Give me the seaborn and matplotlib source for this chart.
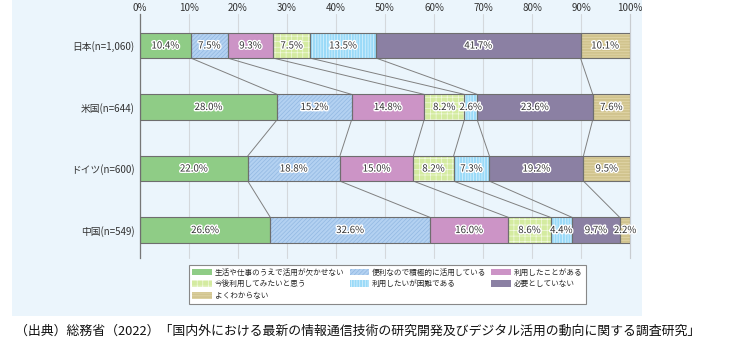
import numpy as np
import pandas as pd
import matplotlib
matplotlib.use('Agg')
import matplotlib.pyplot as plt
import matplotlib.patheffects as pe
from matplotlib.patches import Rectangle, Patch
import seaborn as sns

countries = ['日本(n=1,060)', '米国(n=644)', 'ドイツ(n=600)', '中国(n=549)']
categories = ['生活や仕事のうえで活用が欠かせない', '便利なので積極的に活用している', '利用したことがある',
              '今後利用してみたいと思う', '利用したいが困難である', '必要としていない', 'よくわからない']
japan = [10.4, 7.5, 9.3, 7.5, 13.5, 41.7, 10.1]
usa = [28.0, 15.2, 14.8, 8.2, 2.6, 23.6, 7.6]
germany = [22.0, 18.8, 15.0, 8.2, 7.3, 19.2, 9.5]
china = [26.6, 32.6, 16.0, 8.6, 4.4, 9.7, 2.2]
xticks = [0, 10, 20, 30, 40, 50, 60, 70, 80, 90, 100]
source = '（出典）総務省（2022）「国内外における最新の情報通信技術の研究開発及びデジタル活用の動向に関する調査研究」'

colors = ['#8FCC86', '#B3D1F1', '#CC94C6', '#D4EBA0', '#9ADAF8', '#8B80A3', '#D1C48E']
hatches = ['', '////////', '', '+++', '||||||', '', '------']
hatch_colors = ['#8FCC86', '#92B8E2', '#CC94C6', '#F2F9E0', '#DDF3FD', '#8B80A3', '#E3D8AC']

sns.set_style('white')
plt.rcParams['font.family'] = ['Noto Sans CJK JP', 'DejaVu Sans']
plt.rcParams['hatch.linewidth'] = 0.5

vals = np.array([japan, usa, germany, china])
cum = vals.cumsum(axis=1)
bar_h = 0.41

fig = plt.figure(figsize=(7.3, 3.5), dpi=100)
fig.patches.append(Rectangle((12 / 730, 1 - 316 / 350), 630 / 730, 316 / 350,
                             transform=fig.transFigure, facecolor='#EBF5FC', edgecolor='none', zorder=-10))
ax = fig.add_axes([140 / 730, 1 - 258 / 350, 490 / 730, 244 / 350])
ax.set_zorder(1)
ax.set_facecolor('#EBF5FC')

# stacked bars: draw cumulative totals from the last layer to the first
for k in range(len(categories) - 1, -1, -1):
    df = pd.DataFrame({'country': countries, 'value': cum[:, k]})
    sns.barplot(data=df, x='value', y='country', orient='h', color=colors[k], saturation=1,
                width=bar_h, hatch=hatches[k], edgecolor=hatch_colors[k], linewidth=0, ax=ax, zorder=2)

# outlines of each segment
for i in range(len(countries)):
    left = 0
    for k in range(len(categories)):
        ax.barh(i, vals[i, k], left=left, height=bar_h, fill=False, edgecolor='#6E6E6E', linewidth=0.8, zorder=3)
        mid = left + vals[i, k] / 2
        ax.text(mid, i, f'{vals[i, k]:.1f}%', ha='center', va='center', fontsize=7, color='#333333', zorder=5,
                path_effects=[pe.withStroke(linewidth=2, foreground='white')])
        left += vals[i, k]

# connector lines between bars
for i in range(len(countries) - 1):
    for k in range(len(categories) - 1):
        ax.plot([cum[i, k], cum[i + 1, k]], [i + bar_h / 2, i + 1 - bar_h / 2],
                color='#808080', linewidth=0.7, zorder=1)

ax.set_xlim(0, 100)
ax.set_ylim(3.455, -0.512)
ax.set_xticks(xticks)
ax.set_xticklabels([f'{t}%' for t in xticks], fontsize=7, color='#333333')
ax.xaxis.tick_top()
ax.tick_params(axis='x', length=0, pad=1)
ax.tick_params(axis='y', length=0, pad=4, labelsize=7, labelcolor='#333333')
ax.set_xlabel('')
ax.set_ylabel('')
ax.grid(axis='x', color='#D4D8DC', linewidth=0.8, zorder=0, clip_on=False)
ax.set_axisbelow(True)
for s in ['top', 'bottom']:
    ax.spines[s].set_visible(False)
ax.spines['right'].set_color('#C8CCD0')
ax.spines['right'].set_linewidth(0.8)
ax.spines['left'].set_color('#777777')
ax.spines['left'].set_linewidth(0.9)

handles = [Patch(facecolor=colors[k], hatch=hatches[k], edgecolor=hatch_colors[k], linewidth=0)
           for k in range(len(categories))]
order = [0, 3, 6, 1, 4, 2, 5]
leg = fig.legend([handles[k] for k in order], [categories[k] for k in order], ncol=3,
                 loc='upper left', bbox_to_anchor=(189 / 730, 1 - 265 / 350), fontsize=5.5,
                 frameon=True, fancybox=False, edgecolor='#888888', facecolor='white', framealpha=1,
                 handlelength=2.6, handleheight=0.9, handletextpad=0.3, columnspacing=0.7,
                 labelspacing=0.5, borderpad=0.45, borderaxespad=0)
leg.get_frame().set_linewidth(0.8)

fig.text(358 / 730, 1 - 331 / 350, source, ha='center', va='center', fontsize=9.3, color='#111111')

fig.savefig('out.png', dpi=100, facecolor='white')
